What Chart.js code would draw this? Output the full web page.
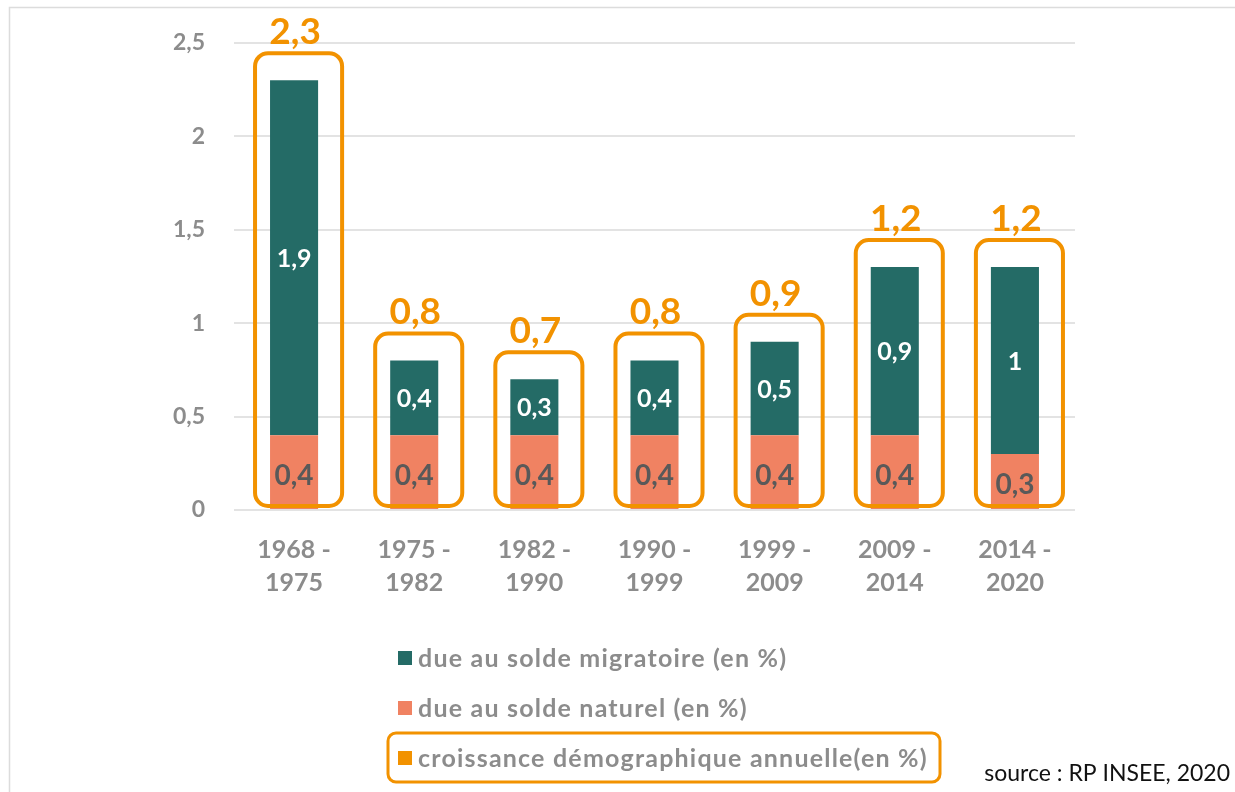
<!DOCTYPE html>
<html><head><meta charset="utf-8">
<script src="https://cdn.jsdelivr.net/npm/chart.js@4.4.1/dist/chart.umd.min.js"></script>
<style>html,body{margin:0;padding:0;background:#fff;overflow:hidden}canvas{display:block}</style>
</head><body>
<canvas id="c" width="1235" height="792"></canvas>
<script>
const periods = [['1968 -','1975'],['1975 -','1982'],['1982 -','1990'],['1990 -','1999'],['1999 -','2009'],['2009 -','2014'],['2014 -','2020']];
const naturel = [0.4,0.4,0.4,0.4,0.4,0.4,0.3];
const migratoire = [1.9,0.4,0.3,0.4,0.5,0.9,1.0];
const croissance = [2.3,0.8,0.7,0.8,0.9,1.2,1.2];
const seriesLabels = ['due au solde migratoire (en %)','due au solde naturel (en %)','croissance démographique annuelle(en %)'];
const sourceText = 'source : RP INSEE, 2020';

const TEAL = '#246B66', SALMON = '#F08262', ORANGE = '#F29200', GRAY = '#8c8c8c';
const fmt = v => String(v).replace('.', ',');
const FONT = 'Lato, "Open Sans", sans-serif';

const annot = {
  id: 'annot',
  afterDatasetsDraw(chart) {
    const ctx = chart.ctx;
    const y = chart.scales.y;
    const mN = chart.getDatasetMeta(0), mM = chart.getDatasetMeta(1);
    const zero = y.getPixelForValue(0);
    ctx.save();
    ctx.textAlign = 'center'; ctx.textBaseline = 'middle';
    mM.data.forEach((el, i) => {
      const x = el.x, w = el.width, top = el.y;
      const bl = x - w/2 - 15, br = x + w/2 + 24, bt = top - 27, bb = zero - 4;
      ctx.beginPath();
      ctx.roundRect(bl, bt, br - bl, bb - bt, 13);
      ctx.lineWidth = 4; ctx.strokeStyle = ORANGE; ctx.stroke();
      ctx.fillStyle = ORANGE; ctx.font = 'bold 37px ' + FONT;
      ctx.fillText(fmt(croissance[i]), x + 1, bt - 21);
      ctx.fillStyle = '#ffffff'; ctx.font = 'bold 25px ' + FONT;
      ctx.fillText(fmt(migratoire[i]), x, (el.y + el.base) / 2 + 1);
      const en = mN.data[i];
      ctx.fillStyle = '#595959'; ctx.font = 'bold 28px ' + FONT;
      ctx.fillText(fmt(naturel[i]), x, (en.y + en.base) / 2 + 4);
    });
    ctx.restore();
  },
  afterDraw(chart) {
    const ctx = chart.ctx;
    ctx.save();
    ctx.strokeStyle = '#dcdcdc'; ctx.lineWidth = 1.5;
    ctx.beginPath(); ctx.moveTo(9.5, 792); ctx.lineTo(9.5, 7.5); ctx.lineTo(1235, 7.5); ctx.stroke();
    const cols = [TEAL, SALMON, ORANGE];
    const ys = [658, 708, 758];
    ctx.textAlign = 'left'; ctx.textBaseline = 'middle';
    ctx.font = 'bold 25px ' + FONT;
    ctx.letterSpacing = '1.2px';
    seriesLabels.forEach((t, i) => {
      ctx.fillStyle = cols[i];
      ctx.fillRect(398, ys[i] - 7, 14, 14);
      ctx.fillStyle = GRAY;
      ctx.fillText(t, 418, ys[i] + 1);
    });
    ctx.letterSpacing = '0px';
    ctx.beginPath(); ctx.roundRect(388, 733, 552, 49, 8);
    ctx.lineWidth = 3; ctx.strokeStyle = ORANGE; ctx.stroke();
    ctx.fillStyle = '#111'; ctx.font = '23px ' + FONT; ctx.textAlign = 'right';
    ctx.fillText(sourceText, 1230, 774);
    ctx.restore();
  }
};

new Chart(document.getElementById('c'), {
  type: 'bar',
  data: {
    labels: periods,
    datasets: [
      { label: seriesLabels[1], data: naturel, backgroundColor: SALMON, stack: 's' },
      { label: seriesLabels[0], data: migratoire, backgroundColor: TEAL, stack: 's' },
      { type: 'line', label: seriesLabels[2], data: croissance, showLine: false, pointRadius: 0, pointHoverRadius: 0, borderColor: ORANGE, backgroundColor: ORANGE, stack: 'g' }
    ]
  },
  options: {
    responsive: false, animation: false, devicePixelRatio: 1,
    layout: { padding: { top: 42, right: 160, bottom: 0, left: 0 } },
    plugins: { legend: { display: false }, tooltip: { enabled: false } },
    datasets: { bar: { barPercentage: 0.4, categoryPercentage: 1.0 } },
    scales: {
      x: {
        stacked: true,
        grid: { display: false, drawTicks: false },
        border: { display: false },
        ticks: { color: GRAY, font: { family: FONT, size: 25, weight: 'bold', lineHeight: 1.32 }, padding: 23, maxRotation: 0 },
        afterFit: s => { s.height = 792 - 510; }
      },
      y: {
        stacked: true, min: 0, max: 2.5,
        grid: { color: '#e3e3e3', lineWidth: 2, drawTicks: false },
        border: { display: false },
        ticks: { stepSize: 0.5, color: GRAY, padding: 29, font: { family: FONT, size: 23, weight: 'bold' }, callback: v => fmt(v) },
        afterFit: s => { s.width = 234; }
      }
    }
  },
  plugins: [annot]
});
</script>
</body></html>
